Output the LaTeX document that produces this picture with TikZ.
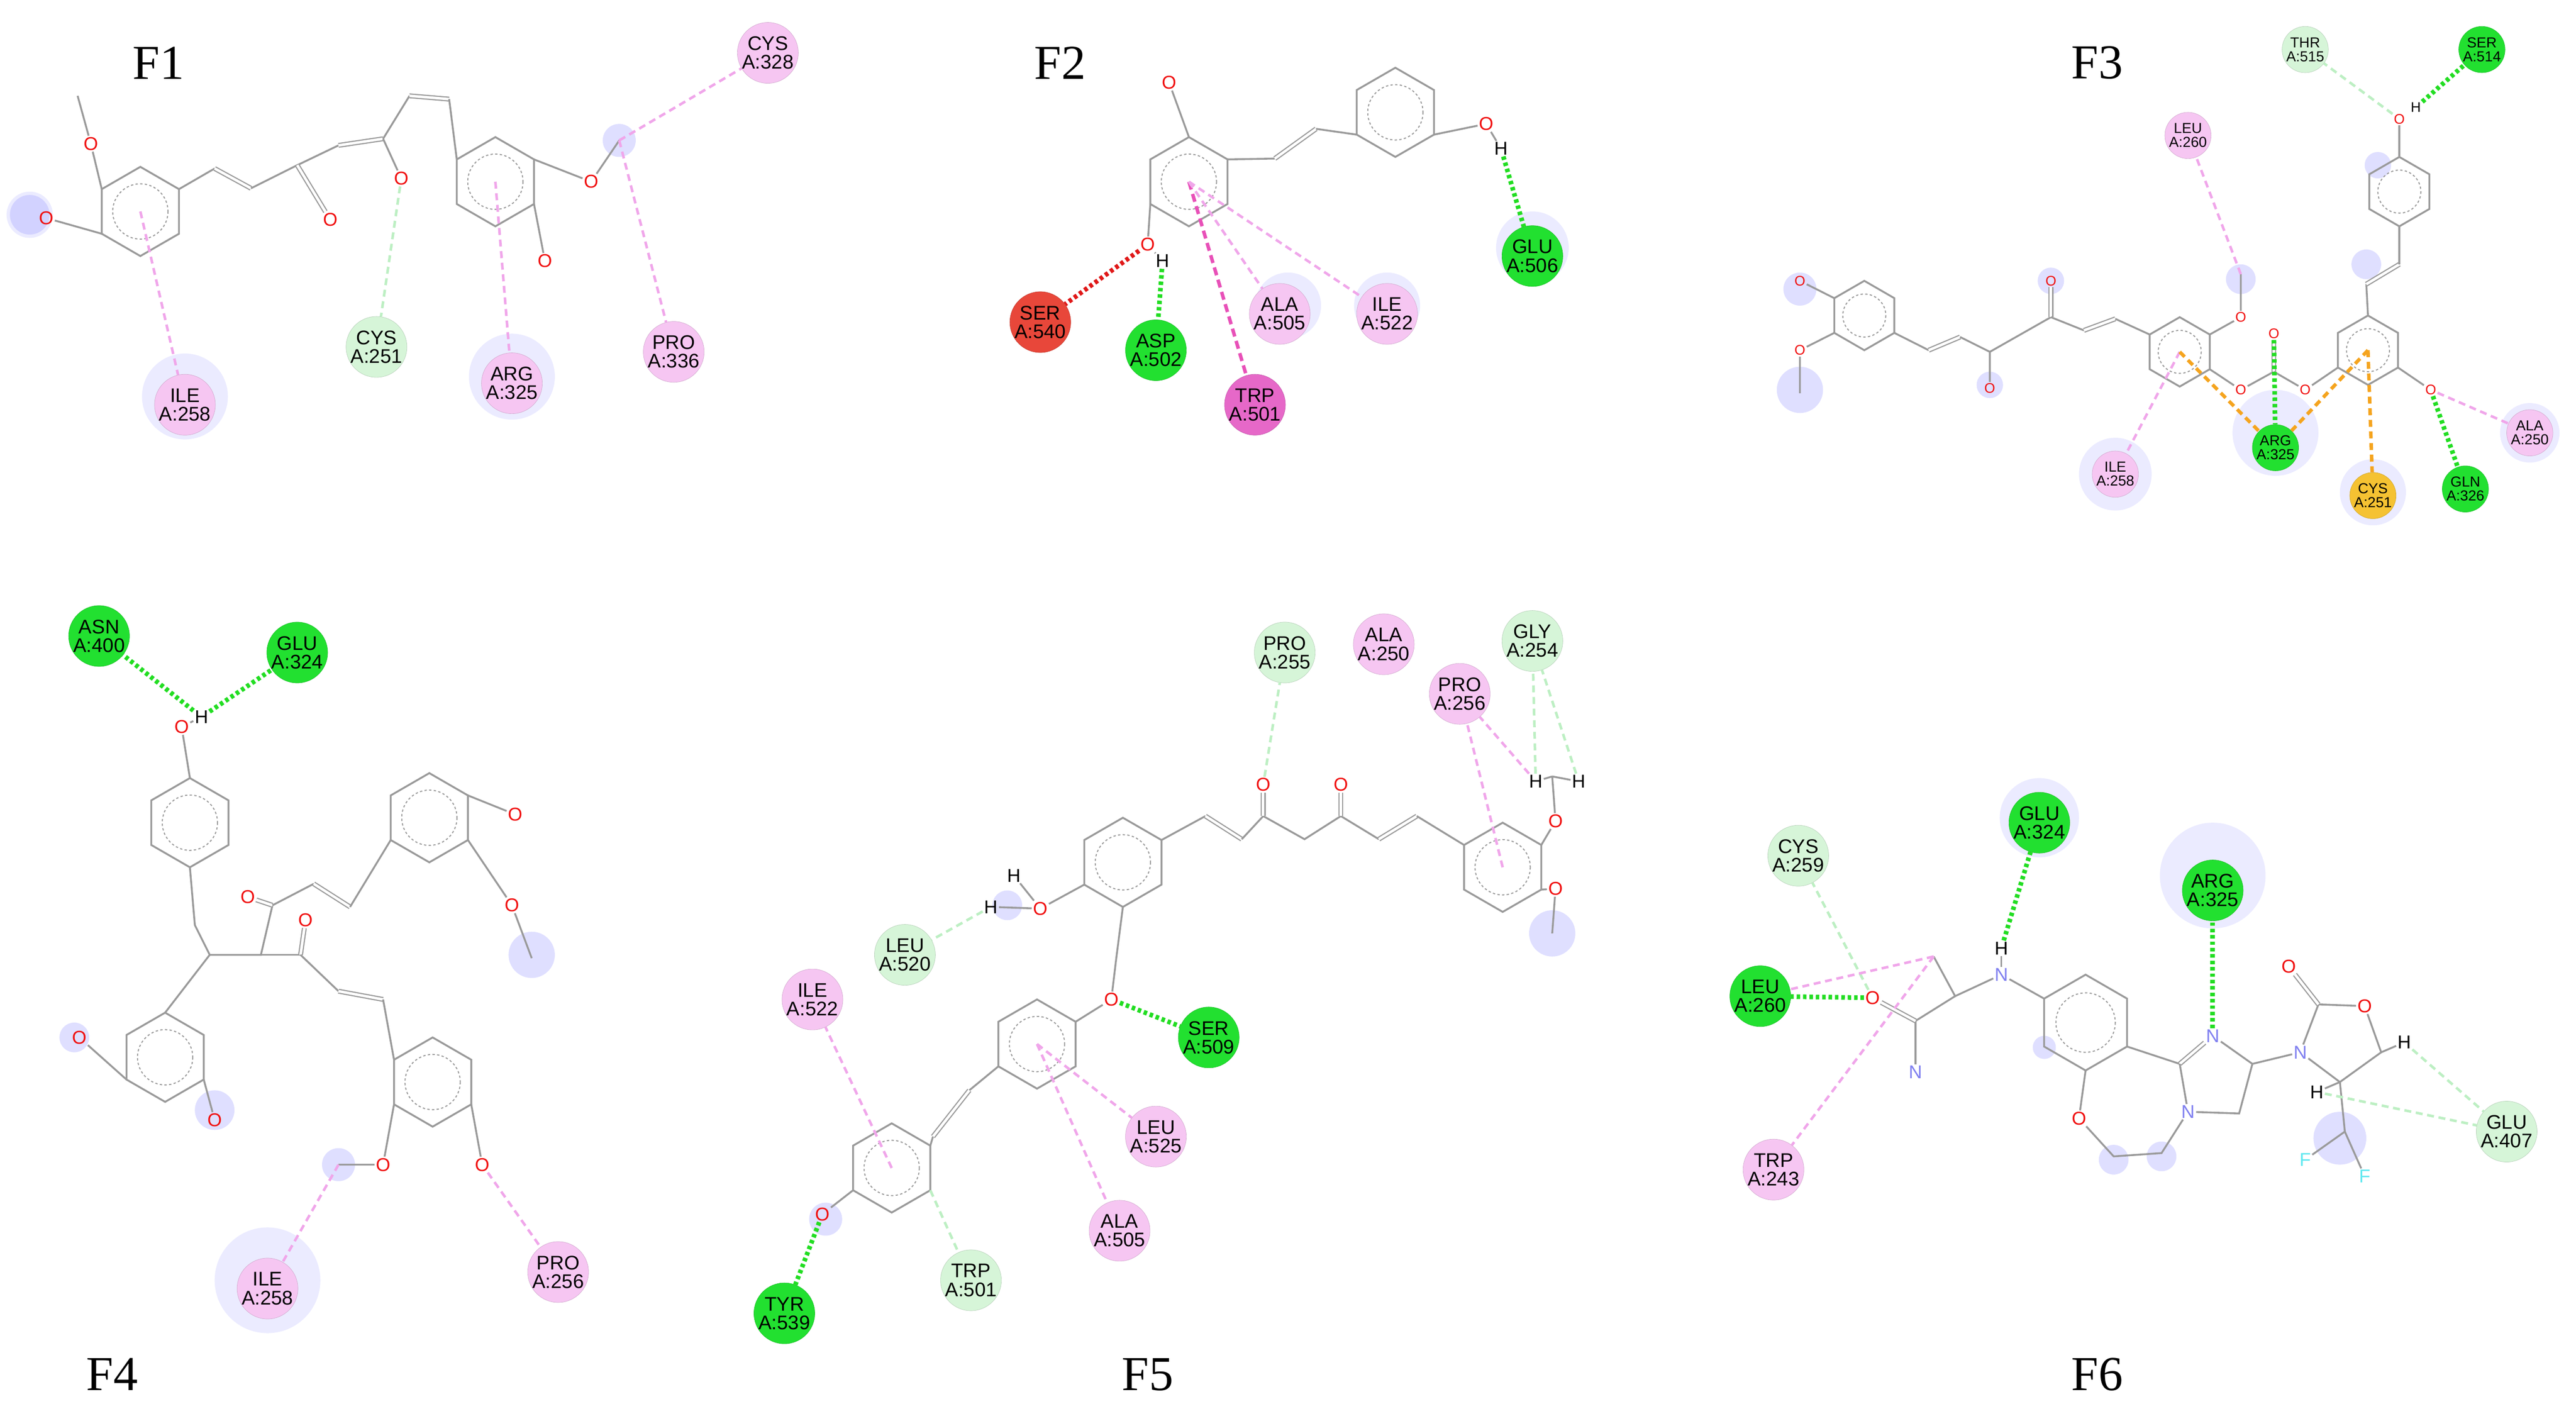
\documentclass[tikz,border=0pt]{standalone}
\usepackage{fontspec}
\setmainfont{Liberation Serif}
\setsansfont{Liberation Sans}
\usetikzlibrary{calc}
\definecolor{pk}{HTML}{F6C6F2}\definecolor{pkl}{HTML}{F0A6EA}
\definecolor{lg}{HTML}{D6F5D8}\definecolor{lgl}{HTML}{BDEFC3}
\definecolor{gr}{HTML}{22E030}\definecolor{grl}{HTML}{22DD22}
\definecolor{rd}{HTML}{E8473A}\definecolor{rdl}{HTML}{E01818}
\definecolor{hp}{HTML}{E668C8}\definecolor{hpl}{HTML}{E850B8}
\definecolor{orf}{HTML}{F5C232}\definecolor{orl}{HTML}{F5A41E}
\definecolor{bondc}{HTML}{9A9A9A}\definecolor{ored}{HTML}{F01010}
\definecolor{nblue}{HTML}{8080F0}\definecolor{fcy}{HTML}{60E8F0}
\tikzset{
 bond/.style={draw=bondc,line width=1.6pt},
 dbl/.style={draw=bondc,line width=1pt,double distance=2.2pt},
 aro/.style={draw=bondc,line width=0.9pt,dash pattern=on 2pt off 2pt},
 res/.style={circle,minimum size=1.8cm,inner sep=0pt,align=center,font=\fontsize{17}{16}\selectfont\sffamily},
 ress/.style={circle,minimum size=1.4cm,inner sep=0pt,align=center,font=\fontsize{12.5}{12}\selectfont\sffamily},
 atom/.style={inner sep=1pt,font=\fontsize{16}{16}\selectfont\sffamily},
 atoms/.style={inner sep=1pt,font=\fontsize{12}{12}\selectfont\sffamily},
 hb/.style={draw=grl,line width=4pt,dash pattern=on 3pt off 2.5pt},
 rdb/.style={draw=rdl,line width=4pt,dash pattern=on 3pt off 2.5pt},
 pkd/.style={draw=pkl,line width=2.2pt,dash pattern=on 6pt off 4pt},
 lgd/.style={draw=lgl,line width=2.2pt,dash pattern=on 6pt off 4pt},
 ord/.style={draw=orl,line width=3pt,dash pattern=on 6pt off 4pt},
 hpd/.style={draw=hpl,line width=3pt,dash pattern=on 7pt off 4pt},
 glow/.style={fill=blue!35,opacity=0.35},
 halo/.style={fill=blue!8},
 lab/.style={font=\fontsize{42}{42}\selectfont}
}
\newcommand\ringat[4]{%
 \coordinate (#1) at (#2,#3);
 \foreach \a in {30,90,150,210,270,330}{\coordinate (#1-\a) at ($(#1)+(\a:#4)$);}
 \draw[bond] (#1-30)--(#1-90)--(#1-150)--(#1-210)--(#1-270)--(#1-330)--cycle;
 \draw[aro] (#1) circle ({0.62*#4});}
\newcommand\res[6]{\node[#1,fill=#2,draw=#2!85!black,line width=0.3pt] (#3) at (#4,#5) {#6};}
\newcommand\atm[5]{\node[atom,text=#2] (#1) at (#3,#4) {#5};}
\newcommand\atms[5]{\node[atoms,text=#2] (#1) at (#3,#4) {#5};}
\begin{document}
\begin{tikzpicture}[x=0.05cm,y=-0.05cm]
\useasboundingbox (0,0) rectangle (1560,860);
\fill[white] (0,0) rectangle (1560,860);
% ---------- labels
\node[lab] at (96,38) {F1};
\node[lab] at (642,38) {F2};
\node[lab] at (1270,38) {F3};
\node[lab] at (68,832) {F4};
\node[lab] at (695,832) {F5};
\node[lab] at (1270,832) {F6};
% ---------- glows / halos
\foreach \p/\r in {{18,130}/14,{112,240}/26,{310,228}/26,{928,150}/22,{780,185}/20,{840,185}/20,{1281,287}/22,{1378,262}/26,{1437,298}/20,{1532,262}/18,{162,775}/32,{1235,495}/24,{1340,530}/32,{1518,685}/18}{\fill[halo] (\p) circle (\r);}
\foreach \p/\r in {{18,130}/12,{375,85}/10,{1090,236}/14,{1090,175}/10,{1357,169}/9,{1433,160}/9,{1440,100}/8,{1205,233}/8,{1242,170}/8,{205,705}/10,{322,578}/14,{45,628}/9,{130,672}/12,{940,565}/14,{500,738}/10,{610,548}/9,{1417,689}/16,{1280,702}/9,{1309,700}/9,{1238,634}/7}{\fill[glow] (\p) circle (\r);}
% ================= F1
\res{res}{pk}{f1ile}{112}{245}{ILE\\A:258}
\res{res}{lg}{f1cys}{228}{210}{CYS\\A:251}
\res{res}{pk}{f1arg}{310}{232}{ARG\\A:325}
\res{res}{pk}{f1pro}{408}{213}{PRO\\A:336}
\res{res}{pk}{f1cys2}{465}{32}{CYS\\A:328}
\ringat{a1}{85}{128}{27}
\ringat{b1}{300}{110}{27}
\atm{o11}{ored}{55}{87}{O}
\atm{o12}{ored}{28}{132}{O}
\atm{o13}{ored}{200}{133}{O}
\atm{o14}{ored}{243}{108}{O}
\atm{o15}{ored}{358}{110}{O}
\atm{o16}{ored}{330}{158}{O}
\coordinate (m11) at (47,58); \coordinate (m15) at (375,85);
\draw[bond] (a1-210)--(o11)--(m11); \draw[bond] (a1-150)--(o12);
\coordinate (c11) at (130,102); \coordinate (c12) at (152,114); \coordinate (c13) at (180,100);
\coordinate (c14) at (205,88); \coordinate (c15) at (232,84); \coordinate (c16) at (248,58); \coordinate (c17) at (272,60);
\draw[bond] (a1-330)--(c11); \draw[dbl] (c11)--(c12); \draw[bond] (c12)--(c13)--(c14);
\draw[dbl] (c13)--(o13); \draw[dbl] (c14)--(c15); \draw[bond] (c15)--(o14); \draw[bond] (c15)--(c16);
\draw[dbl] (c16)--(c17); \draw[bond] (c17)--(b1-210);
\draw[bond] (b1-330)--(o15)--(m15); \draw[bond] (b1-30)--(o16);
\draw[pkd] (a1)--(f1ile); \draw[lgd] (o14)--(f1cys); \draw[pkd] (b1)--(f1arg);
\draw[pkd] (m15)--(f1pro); \draw[pkd] (m15)--(f1cys2);
% ================= F2
\res{res}{gr}{f2glu}{928}{155}{GLU\\A:506}
\res{res}{gr}{f2asp}{700}{212}{ASP\\A:502}
\res{res}{rd}{f2ser}{630}{195}{SER\\A:540}
\res{res}{hp}{f2trp}{760}{245}{TRP\\A:501}
\res{res}{pk}{f2ala}{775}{190}{ALA\\A:505}
\res{res}{pk}{f2ile}{840}{190}{ILE\\A:522}
\ringat{a2}{720}{110}{27}
\ringat{b2}{845}{68}{27}
\atm{o21}{ored}{708}{50}{O}
\atm{o22}{ored}{900}{75}{O}
\atm{o23}{ored}{695}{148}{O}
\atm{h22}{black}{909}{90}{H}
\atm{h23}{black}{704}{158}{H}
\draw[bond] (a2-270)--(o21);
\coordinate (c21) at (772,96); \coordinate (c22) at (797,78);
\draw[bond] (a2-330)--(c21); \draw[dbl] (c21)--(c22); \draw[bond] (c22)--(b2-150);
\draw[bond] (b2-30)--(o22)--(h22); \draw[bond] (a2-150)--(o23)--(h23);
\draw[hb] (h22)--(f2glu); \draw[hb] (h23)--(f2asp); \draw[rdb] (o23)--(f2ser);
\draw[hpd] (a2)--(f2trp); \draw[pkd] (a2)--(f2ala); \draw[pkd] (a2)--(f2ile);
% ================= F3
\res{ress}{lg}{f3thr}{1396}{30}{THR\\A:515}
\res{ress}{gr}{f3ser}{1503}{30}{SER\\A:514}
\res{ress}{pk}{f3leu}{1325}{82}{LEU\\A:260}
\res{ress}{pk}{f3ile}{1281}{287}{ILE\\A:258}
\res{ress}{gr}{f3arg}{1378}{271}{ARG\\A:325}
\res{ress}{orf}{f3cys}{1437}{300}{CYS\\A:251}
\res{ress}{gr}{f3gln}{1493}{296}{GLN\\A:326}
\res{ress}{pk}{f3ala}{1532}{262}{ALA\\A:250}
\ringat{r31}{1129}{191}{21}
\ringat{r32}{1320}{213}{21}
\ringat{r33}{1434}{212}{21}
\ringat{r34}{1453}{116}{21}
\atms{o31}{ored}{1090}{170}{O}
\atms{o32}{ored}{1090}{212}{O}
\atms{o33}{ored}{1205}{235}{O}
\atms{o34}{ored}{1242}{170}{O}
\atms{o35}{ored}{1357}{192}{O}
\atms{o36}{ored}{1357}{236}{O}
\atms{o37}{ored}{1377}{202}{O}
\atms{o38}{ored}{1396}{236}{O}
\atms{o39}{ored}{1472}{236}{O}
\atms{o30}{ored}{1453}{72}{O}
\atms{h30}{black}{1463}{65}{H}
\coordinate (m32) at (1090,238); \coordinate (m35) at (1357,166);
\coordinate (c31) at (1168,212); \coordinate (c32) at (1187,204); \coordinate (c33) at (1205,213);
\coordinate (c34) at (1242,192); \coordinate (c35) at (1262,200); \coordinate (c36) at (1281,193);
\coordinate (c37) at (1377,225); \coordinate (c38) at (1433,172); \coordinate (c39) at (1453,160);
\draw[bond] (r31-210)--(o31); \draw[bond] (r31-150)--(o32)--(m32);
\draw[bond] (r31-30)--(c31); \draw[dbl] (c31)--(c32); \draw[bond] (c32)--(c33)--(o33);
\draw[bond] (c33)--(c34); \draw[dbl] (c34)--(o34); \draw[bond] (c34)--(c35); \draw[dbl] (c35)--(c36);
\draw[bond] (c36)--(r32-210);
\draw[bond] (r32-330)--(o35)--(m35); \draw[bond] (r32-30)--(o36)--(c37); \draw[dbl] (c37)--(o37);
\draw[bond] (c37)--(o38)--(r33-150); \draw[bond] (r33-30)--(o39);
\draw[bond] (r33-270)--(c38); \draw[dbl] (c38)--(c39); \draw[bond] (c39)--(r34-90);
\draw[bond] (r34-270)--(o30);
\draw[lgd] (o30)--(f3thr); \draw[hb] (h30)--(f3ser); \draw[pkd] (m35)--(f3leu);
\draw[pkd] (r32)--(f3ile); \draw[hb] (o37)--(f3arg); \draw[ord] (r32)--(f3arg); \draw[ord] (r33)--(f3arg);
\draw[ord] (r33)--(f3cys); \draw[hb] (o39)--(f3gln); \draw[pkd] (o39)--(f3ala);
% ================= F4
\res{res}{gr}{f4asn}{60}{385}{ASN\\A:400}
\res{res}{gr}{f4glu}{180}{395}{GLU\\A:324}
\res{res}{pk}{f4ile}{162}{780}{ILE\\A:258}
\res{res}{pk}{f4pro}{338}{770}{PRO\\A:256}
\ringat{t4}{115}{498}{27}
\ringat{tr4}{260}{495}{27}
\ringat{bl4}{100}{640}{27}
\ringat{br4}{262}{655}{27}
\atm{o41}{ored}{110}{440}{O}
\atm{h41}{black}{122}{434}{H}
\atm{o42}{ored}{150}{543}{O}
\atm{o43}{ored}{185}{557}{O}
\atm{o44}{ored}{312}{493}{O}
\atm{o45}{ored}{310}{548}{O}
\atm{o46}{ored}{48}{628}{O}
\atm{o47}{ored}{130}{678}{O}
\atm{o48}{ored}{232}{705}{O}
\atm{o49}{ored}{292}{705}{O}
\draw[bond] (t4-270)--(o41)--(h41);
\coordinate (c41) at (118,560); \coordinate (c42) at (127,578); \coordinate (c43) at (158,578);
\coordinate (c44) at (165,548); \coordinate (c45) at (190,535); \coordinate (c46) at (212,549);
\coordinate (c47) at (182,578); \coordinate (c48) at (205,600); \coordinate (c49) at (232,605);
\coordinate (m45) at (322,580); \coordinate (m48) at (205,705);
\draw[bond] (t4-90)--(c41)--(c42)--(c43)--(c44); \draw[bond] (c42)--(bl4-270);
\draw[dbl] (c44)--(o42); \draw[bond] (c44)--(c45); \draw[dbl] (c45)--(c46); \draw[bond] (c46)--(tr4-150);
\draw[bond] (c43)--(c47); \draw[dbl] (c47)--(o43); \draw[bond] (c47)--(c48); \draw[dbl] (c48)--(c49); \draw[bond] (c49)--(br4-210);
\draw[bond] (tr4-330)--(o44); \draw[bond] (tr4-30)--(o45)--(m45);
\draw[bond] (bl4-150)--(o46); \draw[bond] (bl4-30)--(o47);
\draw[bond] (br4-150)--(o48)--(m48); \draw[bond] (br4-30)--(o49);
\draw[hb] (h41)--(f4asn); \draw[hb] (h41)--(f4glu);
\draw[pkd] (m48)--(f4ile); \draw[pkd] (o49)--(f4pro);
% ================= F5
\res{res}{lg}{f5pro}{778}{395}{PRO\\A:255}
\res{res}{pk}{f5ala}{838}{390}{ALA\\A:250}
\res{res}{pk}{f5pro2}{884}{420}{PRO\\A:256}
\res{res}{lg}{f5gly}{928}{388}{GLY\\A:254}
\res{res}{lg}{f5leu}{548}{578}{LEU\\A:520}
\res{res}{pk}{f5ile}{492}{605}{ILE\\A:522}
\res{res}{gr}{f5ser}{732}{628}{SER\\A:509}
\res{res}{pk}{f5leu2}{700}{688}{LEU\\A:525}
\res{res}{pk}{f5ala2}{678}{745}{ALA\\A:505}
\res{res}{lg}{f5trp}{588}{775}{TRP\\A:501}
\res{res}{gr}{f5tyr}{475}{795}{TYR\\A:539}
\ringat{l5}{680}{522}{27}
\ringat{m5}{628}{632}{27}
\ringat{bl5}{540}{707}{27}
\ringat{r5}{910}{525}{27}
\atm{o51}{ored}{630}{550}{O}
\atm{h51}{black}{600}{549}{H}
\atm{h52}{black}{614}{530}{H}
\atm{o52}{ored}{673}{605}{O}
\atm{o53}{ored}{498}{735}{O}
\atm{o54}{ored}{765}{475}{O}
\atm{o55}{ored}{812}{475}{O}
\atm{o56}{ored}{942}{497}{O}
\atm{o57}{ored}{942}{538}{O}
\atm{h53}{black}{930}{473}{H}
\atm{h54}{black}{956}{473}{H}
\coordinate (m56) at (940,470); \coordinate (m57) at (940,565);
\draw[bond] (l5-150)--(o51)--(h51); \draw[bond] (o51)--(h52);
\coordinate (c50) at (676,580);
\draw[bond] (l5-90)--(c50)--(o52)--(m5-330);
\coordinate (c51) at (587,660); \coordinate (c52) at (565,688);
\draw[bond] (m5-150)--(c51); \draw[dbl] (c51)--(c52); \draw[bond] (c52)--(bl5-330);
\draw[bond] (bl5-150)--(o53);
\coordinate (c53) at (730,494); \coordinate (c54) at (752,508); \coordinate (c55) at (765,494);
\coordinate (c56) at (790,508); \coordinate (c57) at (812,494); \coordinate (c58) at (835,508); \coordinate (c59) at (858,494);
\draw[bond] (l5-330)--(c53); \draw[dbl] (c53)--(c54); \draw[bond] (c54)--(c55)--(c56)--(c57)--(c58);
\draw[dbl] (c55)--(o54); \draw[dbl] (c57)--(o55); \draw[dbl] (c58)--(c59); \draw[bond] (c59)--(r5-210);
\draw[bond] (r5-330)--(o56)--(m56); \draw[bond] (m56)--(h53); \draw[bond] (m56)--(h54);
\draw[bond] (r5-30)--(o57)--(m57);
\draw[lgd] (o54)--(f5pro); \draw[pkd] (r5)--(f5pro2); \draw[pkd] (h53)--(f5pro2);
\draw[lgd] (h53)--(f5gly); \draw[lgd] (h54)--(f5gly);
\draw[lgd] (h51)--(f5leu); \draw[pkd] (bl5)--(f5ile); \draw[hb] (o52)--(f5ser);
\draw[pkd] (m5)--(f5leu2); \draw[pkd] (m5)--(f5ala2); \draw[lgd] (bl5-30)--(f5trp); \draw[hb] (o53)--(f5tyr);
% ================= F6
\res{res}{lg}{f6cys}{1089}{518}{CYS\\A:259}
\res{res}{gr}{f6glu}{1235}{498}{GLU\\A:324}
\res{res}{gr}{f6arg}{1340}{539}{ARG\\A:325}
\res{res}{gr}{f6leu}{1066}{603}{LEU\\A:260}
\res{res}{pk}{f6trp}{1074}{708}{TRP\\A:243}
\res{res}{lg}{f6glu2}{1518}{685}{GLU\\A:407}
\ringat{bz6}{1263}{619}{29}
\atm{n61}{nblue}{1212}{590}{N}
\atm{h61}{black}{1212}{574}{H}
\atm{o61}{ored}{1134}{604}{O}
\atm{n62}{nblue}{1160}{649}{N}
\atm{n63}{nblue}{1340}{627}{N}
\atm{n64}{nblue}{1325}{673}{N}
\atm{o62}{ored}{1259}{677}{O}
\atm{n65}{nblue}{1393}{637}{N}
\atm{o63}{ored}{1386}{585}{O}
\atm{o64}{ored}{1432}{609}{O}
\atm{h62}{black}{1456}{631}{H}
\atm{h63}{black}{1403}{661}{H}
\atm{f61}{fcy}{1396}{702}{F}
\atm{f62}{fcy}{1432}{712}{F}
\coordinate (c61) at (1184,603); \coordinate (m61) at (1171,579); \coordinate (c62) at (1160,618);
\coordinate (c63) at (1320,644); \coordinate (c64) at (1364,644); \coordinate (c65) at (1356,674);
\coordinate (c66) at (1280,700); \coordinate (c67) at (1309,698);
\coordinate (c68) at (1404,608); \coordinate (c69) at (1442,637); \coordinate (c60) at (1417,655); \coordinate (c6f) at (1420,685);
\draw[bond] (bz6-210)--(n61)--(c61)--(m61); \draw[bond] (n61)--(h61);
\draw[bond] (c61)--(c62)--(n62); \draw[dbl] (c62)--(o61);
\draw[bond] (bz6-30)--(c63); \draw[dbl] (c63)--(n63); \draw[bond] (n63)--(c64)--(c65)--(n64)--(c63);
\draw[bond] (bz6-90)--(o62)--(c66)--(c67)--(n64);
\draw[bond] (c64)--(n65)--(c68)--(o64)--(c69)--(c60)--(n65); \draw[dbl] (c68)--(o63);
\draw[bond] (c69)--(h62); \draw[bond] (c60)--(h63); \draw[bond] (c60)--(c6f)--(f61); \draw[bond] (c6f)--(f62);
\draw[hb] (h61)--(f6glu); \draw[hb] (n63)--(f6arg); \draw[hb] (o61)--(f6leu);
\draw[lgd] (o61)--(f6cys); \draw[pkd] (m61)--(f6leu); \draw[pkd] (m61)--(f6trp);
\draw[lgd] (h62)--(f6glu2); \draw[lgd] (h63)--(f6glu2);
\end{tikzpicture}
\end{document}
